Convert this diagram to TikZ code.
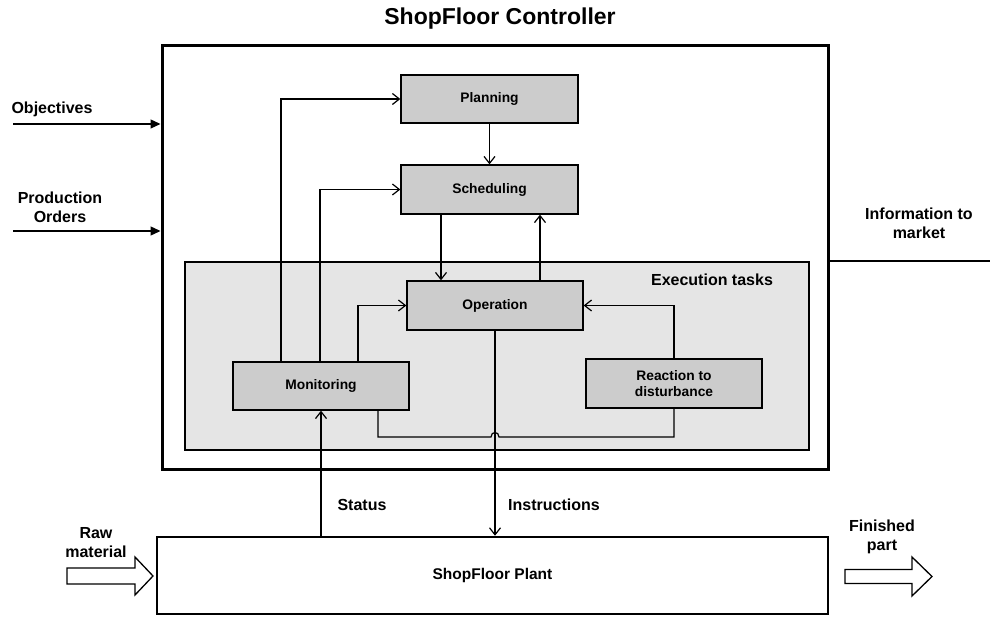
\documentclass[tikz,border=0pt]{standalone}
\usepackage{fontspec}
\setmainfont{Liberation Sans}
\usetikzlibrary{arrows.meta,calc}
\begin{document}
\begin{tikzpicture}[x=1pt,y=-1pt,
  box/.style={draw,fill=gray!40,line width=1.3pt,minimum width=176pt,minimum height=48pt,inner sep=0pt,font=\fontsize{13.8}{16.5}\selectfont\bfseries,align=center},
  lbl/.style={font=\fontsize{16}{19}\selectfont\bfseries,align=center,inner sep=0pt},
  conn/.style={line width=1.2pt},
  arr/.style={conn,-{Straight Barb[length=7pt,width=11pt,line width=1.2pt]}},
  inarr/.style={line width=1.3pt,-{Triangle[length=10pt,width=9pt]}},
  hollow/.style={draw,line width=1.3pt,fill=white,line join=miter}]
\useasboundingbox (0,0) rectangle (997,617);
% title
\node[lbl,font=\fontsize{23}{27}\selectfont\bfseries] (title) at (500,19) {ShopFloor Controller};
% outer controller box
\node[draw,line width=3pt,minimum width=666pt,minimum height=424pt,inner sep=0pt] (ctrl) at (495,258) {};
% execution region
\node[draw,fill=gray!20,line width=1.2pt,minimum width=624pt,minimum height=188pt,inner sep=0pt] (exec) at (497,356) {};
\node[lbl] (exectxt) at (712,280) {Execution tasks};
% boxes
\node[box,minimum width=177pt] (plan) at (489.5,99) {Planning};
\node[box,minimum width=177pt,minimum height=49pt] (sched) at (489.5,189.5) {Scheduling};
\node[box,minimum height=49pt] (op) at (495,305.5) {Operation};
\node[box] (mon) at (321,386) {Monitoring};
\node[box,minimum height=49pt] (react) at (674,383.5) {Reaction to\\disturbance};
% plant
\node[draw,line width=2.5pt,minimum width=671pt,minimum height=77pt,inner sep=0pt,font=\fontsize{15.5}{18}\selectfont\bfseries] (plant) at (492.5,575.5) {ShopFloor Plant};
% coordinates for vertical connectors
\coordinate (xa) at (441,0);
\coordinate (xb) at (540,0);
\coordinate (retL) at (491,437);
\coordinate (retR) at (499,437);
% monitoring feedback connectors
\draw[arr] ([xshift=-40pt]mon.north) |- (plan.west);
\draw[arr] ([xshift=-1pt]mon.north) |- (sched.west);
\draw[arr] ([xshift=37pt]mon.north) |- (op.west);
% planning chain
\draw[arr] (plan.south) -- (sched.north);
\draw[arr] (sched.south -| xa) -- (op.north -| xa);
\draw[arr] (op.north -| xb) -- (sched.south -| xb);
\draw[arr] (react.north) |- (op.east);
% return line with hop
\draw[conn] ([xshift=57pt]mon.south) |- (retL) .. controls ($(retL)+(0,-6)$) and ($(retR)+(0,-6)$) .. (retR) -| (react.south);
% status & instructions
\draw[arr] (plant.north -| mon.south) -- (mon.south);
\draw[arr] (op.south) -- (plant.north -| op.south);
\node[lbl] (status) at (362,505) {Status};
\node[lbl] (instr) at (554,505) {Instructions};
% inputs
\coordinate (objS) at (13,124);
\coordinate (poS) at (13,231);
\draw[inarr] (objS) -- (objS -| ctrl.west);
\draw[inarr] (poS) -- (poS -| ctrl.west);
\node[lbl] (obj) at (52,109) {Objectives};
\node[lbl] (po) at (60,207.5) {Production\\Orders};
% information to market
\coordinate (infoE) at (990,261);
\draw[line width=1.3pt] (infoE -| ctrl.east) -- (infoE);
\node[lbl] (info) at (919,223) {Information to\\market};
% raw material and finished part
\draw[hollow] (67,568) -- (135,568) -- (135,557) -- (153,576) -- (135,595) -- (135,584) -- (67,584) -- cycle;
\node[lbl] (raw) at (96,542.5) {Raw\\material};
\draw[hollow] (845,569.5) -- (912,569.5) -- (912,557) -- (932,576.5) -- (912,596) -- (912,583.5) -- (845,583.5) -- cycle;
\node[lbl] (fin) at (882,537) {Finished\\part};
\end{tikzpicture}
\end{document}
